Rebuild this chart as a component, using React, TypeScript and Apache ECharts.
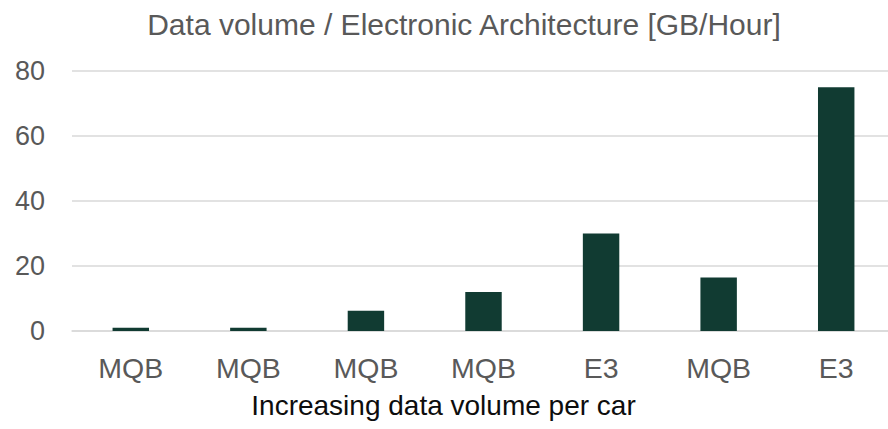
import React, { useEffect, useRef } from "react";
import * as echarts from "echarts";

const categories = ["MQB", "MQB", "MQB", "MQB", "E3", "MQB", "E3"];
const values = [1, 1, 6.2, 12, 30, 16.5, 75];
const yTicks = [0, 20, 40, 60, 80];

export default function App() {
  const ref = useRef<HTMLDivElement>(null);
  useEffect(() => {
    document.body.style.margin = "0";
    const chart = echarts.init(ref.current!, null, { renderer: "svg" });
    const font = "'Liberation Sans', Arial, sans-serif";
    chart.setOption({
      animation: false,
      title: {
        text: "Data volume / Electronic Architecture [GB/Hour]",
        left: 459,
        textAlign: "center",
        top: 4,
        textStyle: { color: "#595959", fontSize: 30, fontWeight: "normal", fontFamily: font },
      },
      grid: { left: 72, right: -7, top: 71, bottom: 98, outerBoundsMode: "none", containLabel: false },
      xAxis: {
        type: "category",
        data: categories,
        axisLine: { show: true, lineStyle: { color: "#d9d9d9", width: 1.5 } },
        axisTick: { show: false },
        axisLabel: { color: "#595959", fontSize: 28.5, fontFamily: font, margin: 22 },
        name: "Increasing data volume per car",
        nameLocation: "middle",
        nameGap: 60,
        nameTextStyle: { color: "#0d0d0d", fontSize: 28, fontFamily: font, padding: [0, 80, 0, 0] },
      },
      yAxis: {
        type: "value",
        min: yTicks[0],
        max: yTicks[yTicks.length - 1],
        interval: 20,
        axisLine: { show: false },
        axisTick: { show: false },
        splitLine: { lineStyle: { color: "#d9d9d9", width: 1.5 } },
        axisLabel: { color: "#595959", fontSize: 27, fontFamily: font, margin: 27 },
      },
      series: [
        {
          type: "bar",
          data: values,
          barWidth: "31%",
          itemStyle: { color: "#113b32" },
        },
      ],
    });
    return () => chart.dispose();
  }, []);
  return <div ref={ref} style={{ width: 888, height: 429 }} />;
}
